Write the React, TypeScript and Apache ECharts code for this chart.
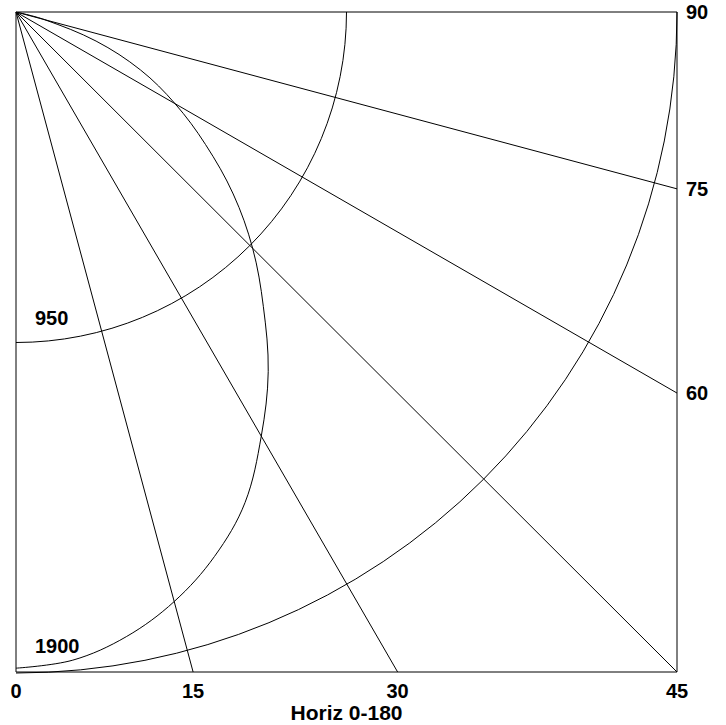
import React, { useEffect, useRef } from "react";
import * as echarts from "echarts";

// Scale of the square (units on both axes)
const EXTENT = 1900;
// Angle lines, degrees measured from the downward vertical at the top-left corner
const rayAngles = [15, 30, 45, 60, 75];
// Quarter-circle arcs (radius, label)
const arcRadii = [950, 1900];
const arcLabels = ["950", "1900"];
// Curve: angle (deg) and radius
const curveAngles = [0, 5, 10, 15, 20, 25, 30, 35, 40, 45, 50, 55, 60, 65, 70, 75, 77.5];
const curveRadii = [1889, 1873, 1826, 1757, 1668, 1558, 1410, 1264, 1106, 962, 815, 665, 528, 395, 245, 85, 0];
// Tick labels (angles)
const bottomTicks = [0, 15, 30, 45];
const rightTicks = [60, 75, 90];
const axisTitle = "Horiz 0-180";

const FONT_FAMILY = "'Liberation Sans', Arial, Helvetica, sans-serif";
const FONT = "bold 20px " + FONT_FAMILY;
const rad = (d: number) => (d * Math.PI) / 180;

function rayEnd(a: number): number[] {
  if (a <= 45) return [EXTENT * Math.tan(rad(a)), EXTENT];
  return [EXTENT, EXTENT * Math.tan(rad(90 - a))];
}

export default function App() {
  const ref = useRef<HTMLDivElement>(null);
  useEffect(() => {
    document.body.style.margin = "0";
    if (!ref.current) return;
    const chart = echarts.init(ref.current, null, { renderer: "svg" });

    const lineStyle = { color: "#000", width: 1 };
    const raySeries = rayAngles.map((a) => ({
      type: "line",
      data: [[0, 0], rayEnd(a)],
      symbol: "none",
      lineStyle,
      silent: true,
    }));

    // label placement: value (data coords), text, pixel offset and alignment
    const labels: any[] = [
      ...bottomTicks.map((a) => ({ value: rayEnd(a), text: String(a), dx: 0, dy: 18.5, align: "center" })),
      ...rightTicks.map((a) => ({
        value: [EXTENT, EXTENT * Math.tan(rad(90 - a))],
        text: String(a),
        dx: 9,
        dy: 0,
        align: "left",
      })),
      ...arcRadii.map((r, i) => ({ value: [0, r], text: arcLabels[i], dx: 19, dy: i === 0 ? -24 : -26.5, align: "left" })),
    ];

    const option: any = {
      animation: false,
      grid: {
        left: 16,
        top: 12,
        width: 661,
        height: 660,
        show: true,
        borderColor: "#000",
        borderWidth: 1,
        backgroundColor: "transparent",
        containLabel: false,
        outerBoundsMode: "none",
      },
      xAxis: {
        type: "value",
        min: 0,
        max: EXTENT,
        axisLine: { show: false },
        axisTick: { show: false },
        axisLabel: { show: false },
        splitLine: { show: false },
        name: axisTitle,
        nameLocation: "middle",
        nameGap: 30,
        nameTextStyle: {
          fontFamily: FONT_FAMILY,
          fontWeight: "bold",
          fontSize: 21,
          color: "#000",
        },
      },
      yAxis: {
        type: "value",
        min: 0,
        max: EXTENT,
        inverse: true,
        axisLine: { show: false },
        axisTick: { show: false },
        axisLabel: { show: false },
        splitLine: { show: false },
      },
      series: [
        ...raySeries,
        {
          type: "custom",
          data: [[0, 0]],
          silent: true,
          clip: true,
          renderItem: (params: any, api: any) => {
            const points = curveAngles.map((a, i) =>
              api.coord([
                curveRadii[i] * Math.sin(rad(a)),
                curveRadii[i] * Math.cos(rad(a)),
              ])
            );
            return {
              type: "polyline",
              shape: { points, smooth: 0.35 },
              style: { stroke: "#000", fill: null, lineWidth: 1 },
            };
          },
        },
        {
          type: "custom",
          data: arcRadii.map((r) => [r, 0]),
          silent: true,
          renderItem: (params: any, api: any) => {
            const r = api.value(0);
            const c = api.coord([0, 0]);
            const e = api.coord([r, 0]);
            return {
              type: "arc",
              shape: {
                cx: c[0],
                cy: c[1],
                r: e[0] - c[0],
                startAngle: 0,
                endAngle: Math.PI / 2,
                clockwise: true,
              },
              style: { stroke: "#000", fill: null, lineWidth: 1 },
            };
          },
        },
        {
          type: "custom",
          silent: true,
          data: labels.map((l) => l.value),
          renderItem: (params: any, api: any) => {
            const l = labels[params.dataIndex];
            const p = api.coord([api.value(0), api.value(1)]);
            return {
              type: "text",
              style: {
                text: l.text,
                x: p[0] + l.dx,
                y: p[1] + l.dy,
                textAlign: l.align,
                textVerticalAlign: "middle",
                font: FONT,
                fill: "#000",
              },
            };
          },
        },
      ],
    };
    chart.setOption(option);
    return () => chart.dispose();
  }, []);
  return <div ref={ref} style={{ width: 726, height: 725 }} />;
}
